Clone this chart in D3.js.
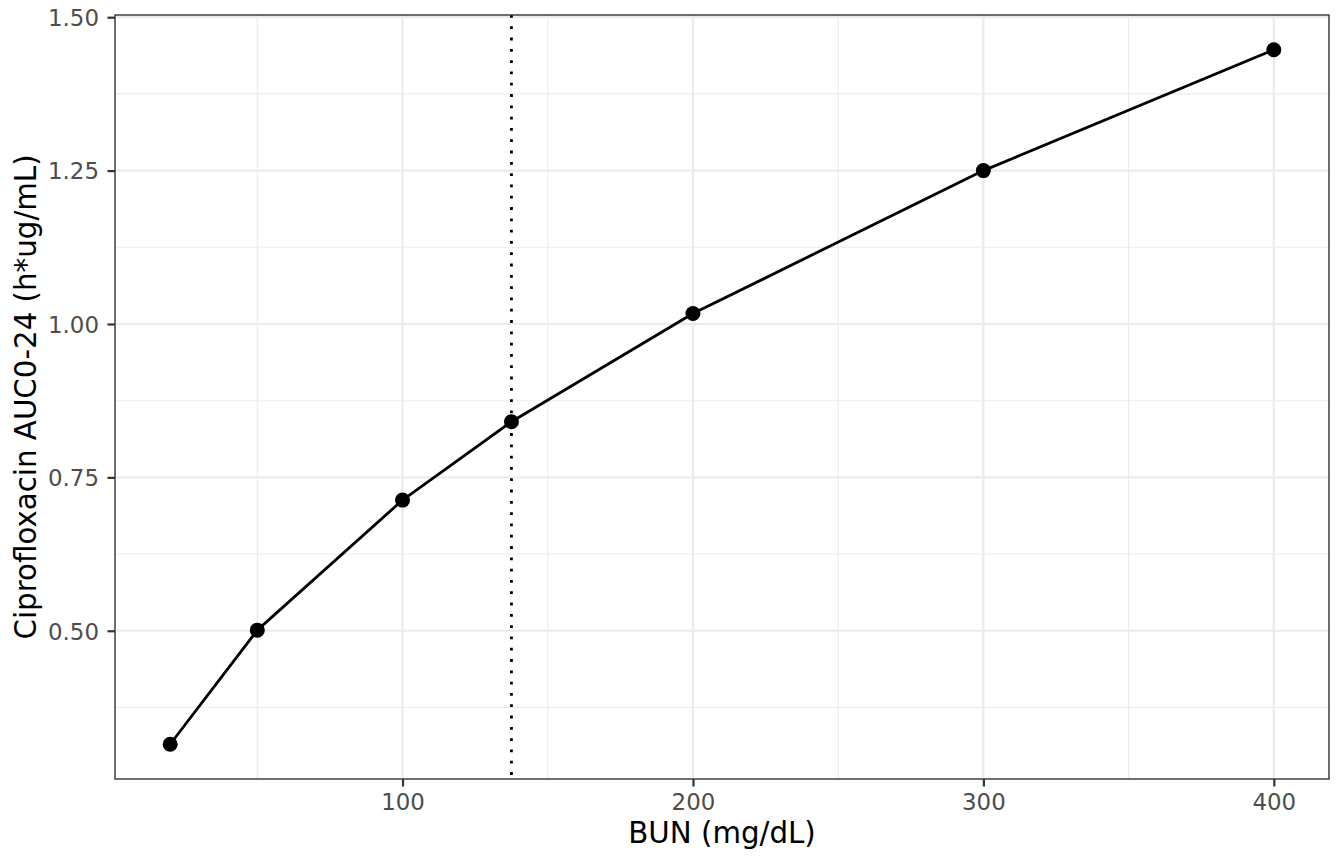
<!DOCTYPE html>
<html>
<head>
<meta charset="utf-8">
<script src="https://cdn.jsdelivr.net/npm/d3@7"></script>
<style>
  html, body { margin: 0; padding: 0; background: #fff; }
  svg { display: block; }
  text { font-family: "DejaVu Sans", sans-serif; }
</style>
</head>
<body>
<svg id="chart" width="1344" height="864"></svg>
<script>
// Data
const bun = [20, 50, 100, 137.5, 200, 300, 400];
const auc = [0.3150, 0.501, 0.713, 0.8407, 1.017, 1.250, 1.447];
const vlineX = [137.5];
const xTicks = [100, 200, 300, 400];
const xMinor = [50, 150, 250, 350];
const yTicks = [0.50, 0.75, 1.00, 1.25, 1.50];
const yMinor = [0.375, 0.625, 0.875, 1.125, 1.375];
const xTitle = "BUN (mg/dL)";
const yTitle = "Ciprofloxacin AUC0-24 (h*ug/mL)";

const W = 1344, H = 864;
const panel = { left: 115, right: 1329, top: 15, bottom: 779 };

function expand(arr) {
  const lo = d3.min(arr), hi = d3.max(arr), pad = (hi - lo) * 0.05;
  return [lo - pad, hi + pad];
}

const x = d3.scaleLinear().domain(expand(bun.concat(vlineX))).range([panel.left, panel.right]);
const y = d3.scaleLinear().domain(expand(auc)).range([panel.bottom, panel.top]);

const svg = d3.select("#chart");
svg.append("rect").attr("width", W).attr("height", H).attr("fill", "#fff");

const g = svg.append("g");

// minor grid
g.selectAll(".xminor").data(xMinor).enter().append("line")
  .attr("x1", d => x(d)).attr("x2", d => x(d))
  .attr("y1", panel.top).attr("y2", panel.bottom)
  .attr("stroke", "#ebebeb").attr("stroke-width", 1.1);
g.selectAll(".yminor").data(yMinor).enter().append("line")
  .attr("y1", d => y(d)).attr("y2", d => y(d))
  .attr("x1", panel.left).attr("x2", panel.right)
  .attr("stroke", "#ebebeb").attr("stroke-width", 1.1);
// major grid
g.selectAll(".xmajor").data(xTicks).enter().append("line")
  .attr("x1", d => x(d)).attr("x2", d => x(d))
  .attr("y1", panel.top).attr("y2", panel.bottom)
  .attr("stroke", "#ebebeb").attr("stroke-width", 2.2);
g.selectAll(".ymajor").data(yTicks).enter().append("line")
  .attr("y1", d => y(d)).attr("y2", d => y(d))
  .attr("x1", panel.left).attr("x2", panel.right)
  .attr("stroke", "#ebebeb").attr("stroke-width", 2.2);

// vertical dotted line
g.selectAll(".vline").data(vlineX).enter().append("line")
  .attr("x1", d => x(d)).attr("x2", d => x(d))
  .attr("y1", panel.top).attr("y2", panel.bottom)
  .attr("stroke", "#000").attr("stroke-width", 2.8)
  .attr("stroke-dasharray", "2.8,8.5");

// data line
const pts = bun.map((b, i) => [b, auc[i]]);
g.append("path").datum(pts)
  .attr("fill", "none").attr("stroke", "#000").attr("stroke-width", 2.8)
  .attr("stroke-linejoin", "round")
  .attr("d", d3.line().x(d => x(d[0])).y(d => y(d[1])));

g.selectAll(".pt").data(pts).enter().append("circle")
  .attr("cx", d => x(d[0])).attr("cy", d => y(d[1])).attr("r", 7.5)
  .attr("fill", "#000");

// panel border
g.append("rect")
  .attr("x", panel.left).attr("y", panel.top)
  .attr("width", panel.right - panel.left).attr("height", panel.bottom - panel.top)
  .attr("fill", "none").attr("stroke", "#333333").attr("stroke-width", 1.4);

// axes
const xAxis = d3.axisBottom(x).tickValues(xTicks).tickSize(7.5).tickPadding(5).tickFormat(d3.format("d"));
const yAxis = d3.axisLeft(y).tickValues(yTicks).tickSize(7.5).tickPadding(5).tickFormat(d3.format(".2f"));

const gx = svg.append("g").attr("transform", `translate(0,${panel.bottom})`).call(xAxis);
const gy = svg.append("g").attr("transform", `translate(${panel.left},0)`).call(yAxis);
[gx, gy].forEach(a => {
  a.select(".domain").remove();
  a.selectAll(".tick line").attr("stroke", "#333333").attr("stroke-width", 2.2);
  a.selectAll(".tick text").attr("fill", "#4d4d4d").style("font-size", "22.9px")
    .style("font-family", "'DejaVu Sans', sans-serif");
});
gx.selectAll(".tick text").attr("dy", null).attr("y", 31);
gy.selectAll(".tick text").attr("dy", null).attr("x", -16).attr("y", 8.3);

// titles
svg.append("text")
  .attr("x", (panel.left + panel.right) / 2).attr("y", 843)
  .attr("text-anchor", "middle").attr("fill", "#000")
  .style("font-size", "29.3px").text(xTitle);
svg.append("text")
  .attr("transform", `translate(35.5,${(panel.top + panel.bottom) / 2}) rotate(-90)`)
  .attr("text-anchor", "middle").attr("fill", "#000")
  .style("font-size", "29.3px").text(yTitle);
</script>
</body>
</html>
